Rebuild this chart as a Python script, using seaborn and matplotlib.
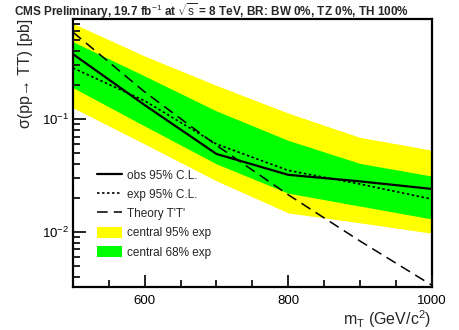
import numpy as np
import pandas as pd
import matplotlib
matplotlib.use("Agg")
import matplotlib.pyplot as plt
from matplotlib.patches import Patch
from matplotlib.lines import Line2D
from matplotlib.ticker import FixedLocator, NullFormatter, LogLocator
import seaborn as sns

# ---------------- data ----------------
masses = [500, 600, 700, 800, 900, 1000]
obs = [0.377, 0.133, 0.049, 0.032, 0.028, 0.024]
exp = [0.284, 0.145, 0.060, 0.035, 0.0265, 0.0195]
theory = [0.590, 0.174, 0.0585, 0.0213, 0.00828, 0.00336]
band95_up = [0.706, 0.362, 0.199, 0.113, 0.0688, 0.053]
band68_up = [0.485, 0.241, 0.118, 0.0647, 0.0404, 0.0312]
band68_dn = [0.190, 0.0867, 0.040, 0.022, 0.0169, 0.013]
band95_dn = [0.126, 0.060, 0.0283, 0.0147, 0.0120, 0.0097]

legend_labels = ["obs 95% C.L.", "exp 95% C.L.", "Theory T'T'",
                 "central 95% exp", "central 68% exp"]
title = "CMS Preliminary, 19.7 fb$^{-1}$ at $\\sqrt{s}$ = 8 TeV, BR: BW 0%, TZ 0%, TH 100%"
xlabel = "m$_{T}$ (GeV/c$^{2}$)"
ylabel = "σ(pp→ TT) [pb]"

df = pd.DataFrame({"mass": masses, "obs": obs, "exp": exp, "theory": theory})

# ---------------- style ----------------
sns.set_style("ticks")
plt.rcParams["font.family"] = ["Liberation Sans", "DejaVu Sans"]
plt.rcParams["mathtext.fontset"] = "custom"
plt.rcParams["mathtext.rm"] = "Liberation Sans"
plt.rcParams["mathtext.it"] = "Liberation Sans"
plt.rcParams["mathtext.bf"] = "Liberation Sans:bold"
plt.rcParams["xtick.direction"] = "in"
plt.rcParams["ytick.direction"] = "in"
plt.rcParams["xtick.color"] = "black"
plt.rcParams["ytick.color"] = "black"

fig = plt.figure(figsize=(4.59, 3.30), dpi=100)
ax = fig.add_axes([0.159, 0.131, 0.7815, 0.811])

YEL = "#FFFF00"
GRN = "#00FF00"
ax.fill_between(masses, band95_dn, band95_up, color=YEL, lw=0, zorder=1)
ax.fill_between(masses, band68_dn, band68_up, color=GRN, lw=0, zorder=2)

sns.lineplot(data=df, x="mass", y="obs", ax=ax, color="black", lw=1.6, zorder=4)
sns.lineplot(data=df, x="mass", y="exp", ax=ax, color="black", lw=1.2, zorder=4,
             linestyle=(0, (1.5, 1.5)))
sns.lineplot(data=df, x="mass", y="theory", ax=ax, color="black", lw=1.1, zorder=4,
             linestyle=(0, (7, 4)))

ax.set_yscale("log")
ax.set_xlim(500, 1000)
ax.set_ylim(0.00325, 0.77)

ax.minorticks_on()
ax.xaxis.set_major_locator(FixedLocator([600, 800, 1000]))
ax.xaxis.set_minor_locator(FixedLocator([550, 650, 700, 750, 850, 900, 950]))
ax.yaxis.set_major_locator(LogLocator(base=10, numticks=10))
ax.yaxis.set_minor_locator(LogLocator(base=10, subs=np.arange(2, 10), numticks=20))
ax.yaxis.set_minor_formatter(NullFormatter())
ax.tick_params(axis="both", which="both", direction="in", top=False, right=False,
               bottom=True, left=True, colors="#111111", width=1.3)
ax.tick_params(axis="both", which="major", length=9, labelsize=9.5, labelcolor="black")
ax.tick_params(axis="both", which="minor", length=5)
ax.tick_params(axis="x", which="major", pad=6)
ax.tick_params(axis="y", which="major", pad=3)
ax.set_axisbelow(False)

for s in ax.spines.values():
    s.set_linewidth(1.6)
    s.set_color("black")
    s.set_visible(True)

ax.set_xlabel(xlabel, fontsize=11.5, ha="right", x=1.0, labelpad=1)
ax.set_ylabel(ylabel, fontsize=11.5, ha="right", y=1.0, labelpad=6)

fig.text(0.030, 0.997, title, fontsize=8.5, fontweight="bold", ha="left", va="top")

handles = [
    Line2D([], [], color="black", lw=1.6),
    Line2D([], [], color="black", lw=1.2, linestyle=(0, (1.5, 1.5))),
    Line2D([], [], color="black", lw=1.1, linestyle=(0, (7, 4))),
    Patch(facecolor=YEL, edgecolor="none"),
    Patch(facecolor=GRN, edgecolor="none"),
]
ax.legend(handles=handles, labels=legend_labels, frameon=False, fontsize=8.5,
          loc="upper left", bbox_to_anchor=(0.045, 0.47), handlelength=2.1,
          handleheight=1.1, handletextpad=0.45, labelspacing=0.55, borderpad=0.2)

fig.savefig("out.png", dpi=100)
